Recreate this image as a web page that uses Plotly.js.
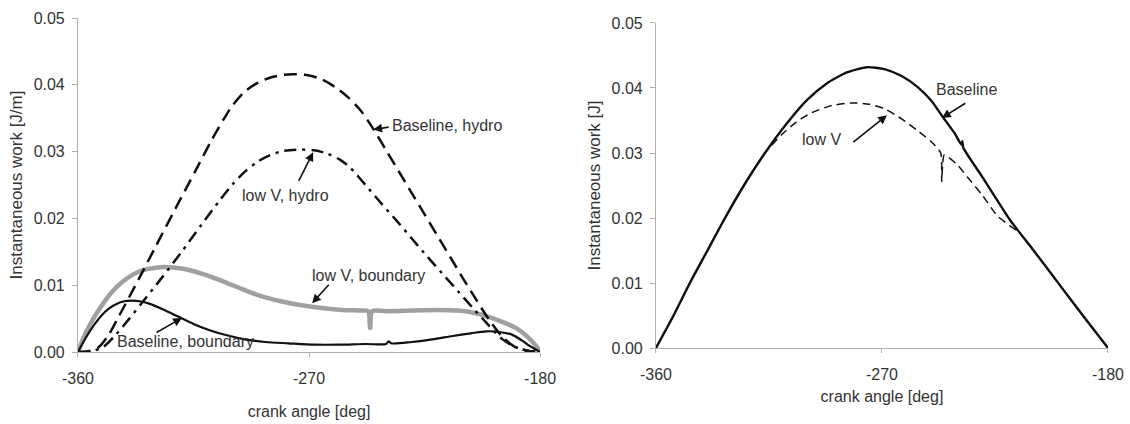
<!DOCTYPE html>
<html>
<head>
<meta charset="utf-8">
<script src="https://cdn.plot.ly/plotly-3.0.1.min.js"></script>
<style>html,body{margin:0;padding:0;background:#fff;}#chart{width:1130px;height:424px;}</style>
</head>
<body>
<div id="chart"></div>
<script>
// ---- Left panel: per-unit-length work [J/m] ----
const angleBaseHydro = [-360,-356,-352,-348,-344,-338,-330,-322,-314,-308,-303,-300,-295,-290,-285,-280,-276,-270,-265,-260,-255,-250,-245,-240,-235,-230,-225,-220,-215,-210,-205,-200,-195,-190,-185,-180];
const workBaseHydro  = [0,0.0001,0.0007,0.0026,0.0054,0.0097,0.0156,0.0215,0.0273,0.0317,0.0350,0.0368,0.0390,0.0403,0.0411,0.0415,0.0416,0.0414,0.0408,0.0397,0.0382,0.0362,0.0334,0.0302,0.0270,0.0238,0.0206,0.0174,0.0142,0.0110,0.0079,0.0049,0.0024,0.0008,0.0002,0];

const angleLowVHydro = [-360,-355,-350,-345,-340,-335,-328,-320,-312,-305,-300,-295,-290,-285,-280,-273.5,-268,-263,-258,-254,-248,-242,-236,-230,-224,-218,-212,-206,-200,-195,-190,-185,-180];
const workLowVHydro  = [0,0.0001,0.0008,0.0027,0.0050,0.0074,0.0108,0.0148,0.0190,0.0226,0.0250,0.0270,0.0285,0.0295,0.0301,0.0303,0.0302,0.0297,0.0288,0.0276,0.0250,0.0223,0.0197,0.0170,0.0143,0.0117,0.0091,0.0065,0.0040,0.0020,0.0008,0.0002,0];

const angleLowVBound = [-360,-358,-356,-354,-351,-348,-345,-341,-337,-333,-328,-322,-316,-310,-303,-296,-289,-281,-273,-265,-257,-249,-247,-246.2,-245.4,-240,-230,-220,-212,-205,-199.5,-194,-189,-185,-182,-180];
const workLowVBound  = [0,0.0020,0.0036,0.0050,0.0068,0.0084,0.0097,0.0110,0.0119,0.0124,0.0127,0.0126,0.0122,0.0115,0.0105,0.0094,0.0084,0.0076,0.0070,0.0066,0.0063,0.0062,0.0061,0.0036,0.0061,0.0061,0.0062,0.0063,0.0062,0.0058,0.0052,0.0044,0.0035,0.0023,0.0011,0];

const angleBaseBound = [-360,-357,-354,-351,-348,-345,-342,-339,-336,-332,-327,-321,-315,-309,-302,-295,-287,-278,-268,-258,-248,-240,-239,-238,-230,-222,-214,-207,-201,-196,-191,-187,-184,-180];
const workBaseBound  = [0,0.0021,0.0039,0.0054,0.0065,0.0072,0.0076,0.0077,0.0076,0.0072,0.0064,0.0053,0.0042,0.0033,0.0025,0.0019,0.0015,0.0013,0.0011,0.0011,0.0012,0.0012,0.0016,0.0013,0.0015,0.0019,0.0024,0.0028,0.0031,0.0030,0.0026,0.0017,0.0009,0];

// ---- Right panel: work [J] ----
const angleBaseline = [-360,-353,-346.5,-339.5,-332.5,-325,-316.6,-308,-300,-292,-284,-276,-269,-262,-256,-250.5,-245.7,-241,-238.4,-238,-237.6,-230,-219,-210,-200,-190,-180];
const workBaseline  = [0,0.0050,0.0100,0.0150,0.0200,0.0250,0.0300,0.0345,0.0381,0.0407,0.0424,0.0432,0.0429,0.0418,0.0402,0.0381,0.0355,0.0330,0.0313,0.0318,0.0308,0.0263,0.0197,0.0152,0.0101,0.0050,0];

const angleLowV = [-360,-353,-346.5,-339.5,-332.5,-325,-316.6,-310,-304,-298,-290,-282,-275,-269,-262,-256,-250,-246.6,-246.2,-245.8,-245.2,-240,-236,-230,-224,-219,-215,-210,-200,-190,-180];
const workLowV  = [0,0.0050,0.0100,0.0150,0.0200,0.0250,0.0300,0.0328,0.0348,0.0362,0.0373,0.0377,0.0375,0.0368,0.0352,0.0335,0.0316,0.0300,0.0256,0.0285,0.0297,0.0282,0.0263,0.0235,0.0203,0.0188,0.0176,0.0152,0.0101,0.0050,0];

const xTicks = [-360,-270,-180];
const xTickText = ['-360','-270','-180'];

const FONT = 'Liberation Sans, Arial, sans-serif';
const TXT = '#333';
const FS = 16;

const traces = [
  {x: angleLowVBound, y: workLowVBound, mode:'lines', line:{color:'#a0a0a0', width:4.5, shape:'spline', smoothing:0.8}, xaxis:'x', yaxis:'y'},
  {x: angleBaseBound, y: workBaseBound, mode:'lines', line:{color:'#111', width:2.2, shape:'spline', smoothing:0.8}, xaxis:'x', yaxis:'y'},
  {x: angleBaseHydro, y: workBaseHydro, mode:'lines', line:{color:'#111', width:2.5, dash:'13px,7px', shape:'spline', smoothing:0.8}, xaxis:'x', yaxis:'y'},
  {x: angleLowVHydro, y: workLowVHydro, mode:'lines', line:{color:'#111', width:2.5, dash:'12px,6px,3px,6px', shape:'spline', smoothing:0.8}, xaxis:'x', yaxis:'y'},
  {x: angleLowV, y: workLowV, mode:'lines', line:{color:'#111', width:1.5, dash:'8px,5px', shape:'spline', smoothing:0.6}, xaxis:'x2', yaxis:'y2'},
  {x: angleBaseline, y: workBaseline, mode:'lines', line:{color:'#111', width:2.4, shape:'spline', smoothing:0.6}, xaxis:'x2', yaxis:'y2'}
];

function xax(domain, standoff){
  return {domain: domain, range:[-360,-180], tickvals:xTicks, ticktext:xTickText,
    showline:true, linecolor:'#b0b0b0', linewidth:1, ticks:'outside', ticklen:4, tickcolor:'#b0b0b0',
    showgrid:false, zeroline:false, ticklabelstandoff:8,
    tickfont:{family:FONT, size:FS, color:TXT},
    title:{text:'crank angle [deg]', font:{family:FONT, size:FS, color:TXT}, standoff:standoff}};
}
function yax(domain, anchor, title){
  return {domain: domain, anchor: anchor, range:[0,0.05], dtick:0.01, tick0:0, tickformat:'.2f',
    showline:true, linecolor:'#b0b0b0', linewidth:1, ticks:'outside', ticklen:5, tickcolor:'#b0b0b0',
    showgrid:false, zeroline:false, ticklabelstandoff:4,
    tickfont:{family:FONT, size:FS, color:TXT},
    title:{text:title, font:{family:FONT, size:17, color:TXT}, standoff:6}};
}

function label(text, x, y, xr, yr){
  return {text:text, x:x, y:y, xref:xr, yref:yr, showarrow:false, xanchor:'center', yanchor:'middle',
    font:{family:FONT, size:FS, color:TXT}};
}
function arrow(tx, ty, hx, hy, xr, yr){
  return {text:'', x:hx, y:hy, ax:tx, ay:ty, xref:xr, yref:yr, axref:xr, ayref:yr,
    showarrow:true, arrowhead:2, arrowsize:1.1, arrowwidth:1.6, arrowcolor:'#111', standoff:0, startstandoff:0};
}

const layout = {
  width:1130, height:424, margin:{l:0,r:0,t:0,b:0}, showlegend:false,
  paper_bgcolor:'#fff', plot_bgcolor:'rgba(0,0,0,0)',
  xaxis: Object.assign(xax([0.069,0.478], 19), {anchor:'y'}),
  yaxis: yax([0.1698,0.9575], 'x', 'Instantaneous work [J/m]'),
  xaxis2: Object.assign(xax([0.5805,0.9805], 8), {anchor:'y2'}),
  yaxis2: yax([0.1792,0.9458], 'x2', 'Instantaneous work [J]'),
  annotations: [
    label('Baseline, hydro', -216.2, 0.0339, 'x', 'y'),
    arrow(-238.4, 0.0337, -245, 0.0333, 'x', 'y'),
    label('low V, hydro', -279, 0.0234, 'x', 'y'),
    arrow(-274.3, 0.0254, -268.4, 0.0299, 'x', 'y'),
    label('low V, boundary', -247, 0.0115, 'x', 'y'),
    arrow(-261.8, 0.0103, -268.8, 0.0073, 'x', 'y'),
    label('Baseline, boundary', -318.3, 0.0015, 'x', 'y'),
    arrow(-330, 0.0028, -319.5, 0.0051, 'x', 'y'),
    label('Baseline', -236.2, 0.0397, 'x2', 'y2'),
    arrow(-236.2, 0.0378, -246.1, 0.0354, 'x2', 'y2'),
    label('low V', -293.9, 0.032, 'x2', 'y2'),
    arrow(-282, 0.0315, -268, 0.0358, 'x2', 'y2')
  ]
};

Plotly.newPlot('chart', traces, layout, {displayModeBar:false, staticPlot:true});
</script>
</body>
</html>
